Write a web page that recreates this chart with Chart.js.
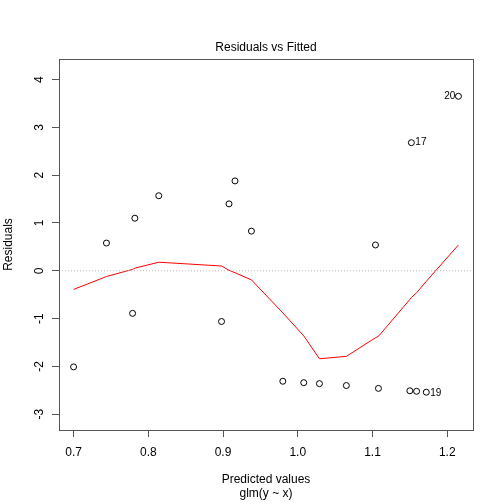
<!DOCTYPE html>
<html>
<head>
<meta charset="utf-8">
<script src="https://cdn.jsdelivr.net/npm/chart.js@4.4.1/dist/chart.umd.min.js"></script>
<style>
  body { margin: 0; background: #fff; }
  canvas { display: block; }
</style>
</head>
<body>
<canvas id="plot" width="504" height="504"></canvas>
<script>
// fitted values and residuals
var fittedValues = [0.700, 0.744, 0.779, 0.782, 0.814, 0.898, 0.908, 0.916, 0.938, 0.980,
                    1.008, 1.029, 1.065, 1.104, 1.108, 1.150, 1.152, 1.159, 1.172, 1.215];
var residualValues = [-2.01, 0.58, -0.89, 1.10, 1.57, -1.06, 1.40, 1.88, 0.83, -2.31,
                      -2.34, -2.36, -2.40, 0.54, -2.46, -2.51, 2.68, -2.52, -2.54, 3.65];
// red smoother, one value per fitted value
var smoothValues = [-0.39, -0.12, 0.03, 0.055, 0.18, 0.10, 0.01, -0.04, -0.19, -0.88,
                    -1.36, -1.84, -1.79, -1.40, -1.37, -0.60, -0.56, -0.46, -0.22, 0.54];
// labelled observations: index in the arrays -> label
var idIndex = [19, 16, 18];
var idLabels = ['20', '17', '19'];

var xTicks = [0.7, 0.8, 0.9, 1.0, 1.1, 1.2];
var yTicks = [-3, -2, -1, 0, 1, 2, 3, 4];
var xMin = 0.6805, xMax = 1.2345;
var yMin = -3.33, yMax = 4.43;

var FONT = "'Liberation Sans', Arial, sans-serif";

var points = fittedValues.map(function (x, i) { return { x: x, y: residualValues[i] }; });
var smooth = fittedValues.map(function (x, i) { return { x: x, y: smoothValues[i] }; });

var decor = {
    id: 'decor',
    afterDatasetsDraw: function (chart) {
        var c = chart.ctx, a = chart.chartArea;
        var xs = chart.scales.x, ys = chart.scales.y;
        c.save();
        // box
        c.strokeStyle = '#555';
        c.lineWidth = 1;
        c.strokeRect(a.left + 0.5, a.top + 0.5, a.right - a.left, a.bottom - a.top);

        // y tick labels, rotated like R
        c.fillStyle = '#000';
        c.font = '12px ' + FONT;
        c.textAlign = 'center';
        c.textBaseline = 'middle';
        yTicks.forEach(function (v) {
            c.save();
            c.translate(39.5, ys.getPixelForValue(v));
            c.rotate(-Math.PI / 2);
            c.fillText(String(v), 0, 0);
            c.restore();
        });

        // point ids
        c.font = '10px ' + FONT;
        idIndex.forEach(function (idx, k) {
            var px = xs.getPixelForValue(fittedValues[idx]);
            var py = ys.getPixelForValue(residualValues[idx]);
            if (idLabels[k] == '20') {
                c.textAlign = 'right';
                c.fillText(idLabels[k], px - 3, py);
            } else {
                c.textAlign = 'left';
                c.fillText(idLabels[k], px + 4, py + (idLabels[k] == '19' ? 1.5 : 0));
            }
        });

        // titles
        var cx = (a.left + a.right) / 2;
        c.font = '12px ' + FONT;
        c.textAlign = 'center';
        c.fillText('Residuals vs Fitted', cx, 48);
        c.fillText('Predicted values', cx, 480);
        c.fillText('glm(y ~ x)', cx, 494);
        c.save();
        c.translate(9, (a.top + a.bottom) / 2);
        c.rotate(-Math.PI / 2);
        c.fillText('Residuals', 0, 0);
        c.restore();
        c.restore();
    }
};

var ctx = document.getElementById('plot').getContext('2d');
var chart = new Chart(ctx, {
    type: 'scatter',
    data: {
        datasets: [
            {
                label: 'zero',
                type: 'line',
                data: [{ x: xMin, y: 0 }, { x: xMax, y: 0 }],
                borderColor: '#bbb',
                borderWidth: 1,
                borderDash: [1, 2],
                pointRadius: 0
            },
            {
                label: 'smooth',
                type: 'line',
                data: smooth,
                borderColor: '#ff0000',
                borderWidth: 1,
                pointRadius: 0,
                tension: 0
            },
            {
                label: 'residuals',
                data: points,
                pointStyle: 'circle',
                pointRadius: 3,
                backgroundColor: 'rgba(0,0,0,0)',
                borderColor: '#000',
                borderWidth: 1
            }
        ]
    },
    options: {
        responsive: false,
        animation: false,
        layout: { padding: { top: 59, right: 31, left: 0, bottom: 0 } },
        plugins: { legend: { display: false }, tooltip: { enabled: false } },
        scales: {
            x: {
                type: 'linear',
                min: xMin,
                max: xMax,
                afterBuildTicks: function (s) { s.ticks = xTicks.map(function (v) { return { value: v }; }); },
                afterFit: function (s) { s.height = 74; },
                grid: { drawOnChartArea: false, drawTicks: true, tickLength: 7, color: '#555' },
                border: { display: false },
                ticks: {
                    padding: 8,
                    color: '#000',
                    maxRotation: 0,
                    font: { family: FONT, size: 12 },
                    callback: function (v) { return Number(v).toFixed(1); }
                }
            },
            y: {
                type: 'linear',
                min: yMin,
                max: yMax,
                afterBuildTicks: function (s) { s.ticks = yTicks.map(function (v) { return { value: v }; }); },
                afterFit: function (s) { s.width = 59; },
                grid: { drawOnChartArea: false, drawTicks: true, tickLength: 7, color: '#555' },
                border: { display: false },
                ticks: { display: false }
            }
        }
    },
    plugins: [decor]
});
</script>
</body>
</html>
